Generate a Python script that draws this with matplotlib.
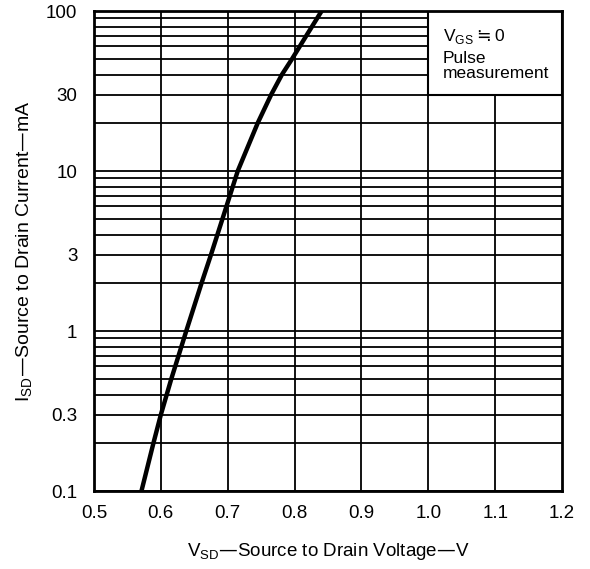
import matplotlib.pyplot as plt
from matplotlib.patches import Rectangle
from matplotlib.ticker import FixedLocator, NullFormatter

plt.rcParams['font.family'] = ['Liberation Sans', 'DejaVu Sans']

# Forward characteristic of the body diode (VGS = 0, pulsed)
v_sd = [0.571, 0.589, 0.600, 0.6155, 0.638, 0.661, 0.675, 0.692, 0.715,
        0.745, 0.765, 0.781, 0.796, 0.8175, 0.8405]
i_sd = [0.1, 0.2, 0.3, 0.5, 1.0, 2.0, 3.0, 5.0, 10.0,
        20.0, 30.0, 40.0, 50.0, 70.0, 100.0]

x_ticks = [0.5, 0.6, 0.7, 0.8, 0.9, 1.0, 1.1, 1.2]
x_labels = ['0.5', '0.6', '0.7', '0.8', '0.9', '1.0', '1.1', '1.2']
y_ticks = [0.1, 0.3, 1, 3, 10, 30, 100]
y_labels = ['0.1', '0.3', '1', '3', '10', '30', '100']

fig = plt.figure(figsize=(5.9, 5.69), dpi=100)
ax = fig.add_axes([94 / 590, 78 / 569, 468 / 590, 480 / 569])

ax.set_yscale('log')
ax.set_xlim(0.5, 1.2)
ax.set_ylim(0.1, 100)

# grid: every minor step of each decade, every 0.1 V
grid_y = [m * 10.0 ** e for e in (-1, 0, 1) for m in range(1, 10)] + [100]
for y in grid_y:
    ax.axhline(y, color='black', lw=1.3, zorder=1)
for x in x_ticks[1:-1]:
    ax.axvline(x, color='black', lw=1.3, zorder=1)

ax.plot(v_sd, i_sd, color='black', lw=3.2, solid_joinstyle='round', zorder=3)

# condition box in the upper right corner
box = Rectangle((1.0, 30), 0.2, 70, facecolor='white', edgecolor='black',
                lw=1.5, zorder=4)
ax.add_patch(box)
ax.text(1.022, 80, r'V$_{\mathregular{GS}}\fallingdotseq$0', fontsize=12.5,
        va='top', ha='left', zorder=5)
ax.text(1.022, 56, 'Pulse\nmeasurement', fontsize=12.5, va='top', ha='left',
        linespacing=0.95, zorder=5)

ax.set_xticks(x_ticks)
ax.set_xticklabels(x_labels, fontsize=13.5)
ax.yaxis.set_major_locator(FixedLocator(y_ticks))
ax.set_yticklabels(y_labels, fontsize=13.5)
ax.yaxis.set_minor_formatter(NullFormatter())
ax.tick_params(axis='x', which='both', length=0, pad=10)
ax.tick_params(axis='y', which='both', length=0, pad=12)

for s in ax.spines.values():
    s.set_linewidth(2)
    s.set_zorder(6)

ax.set_xlabel(r'V$_{\mathregular{SD}}$—Source to Drain Voltage—V', fontsize=13.5, labelpad=14)
ax.set_ylabel(r'I$_{\mathregular{SD}}$—Source to Drain Current—mA', fontsize=14, labelpad=8)

fig.savefig('out.png', dpi=100, facecolor='white')
